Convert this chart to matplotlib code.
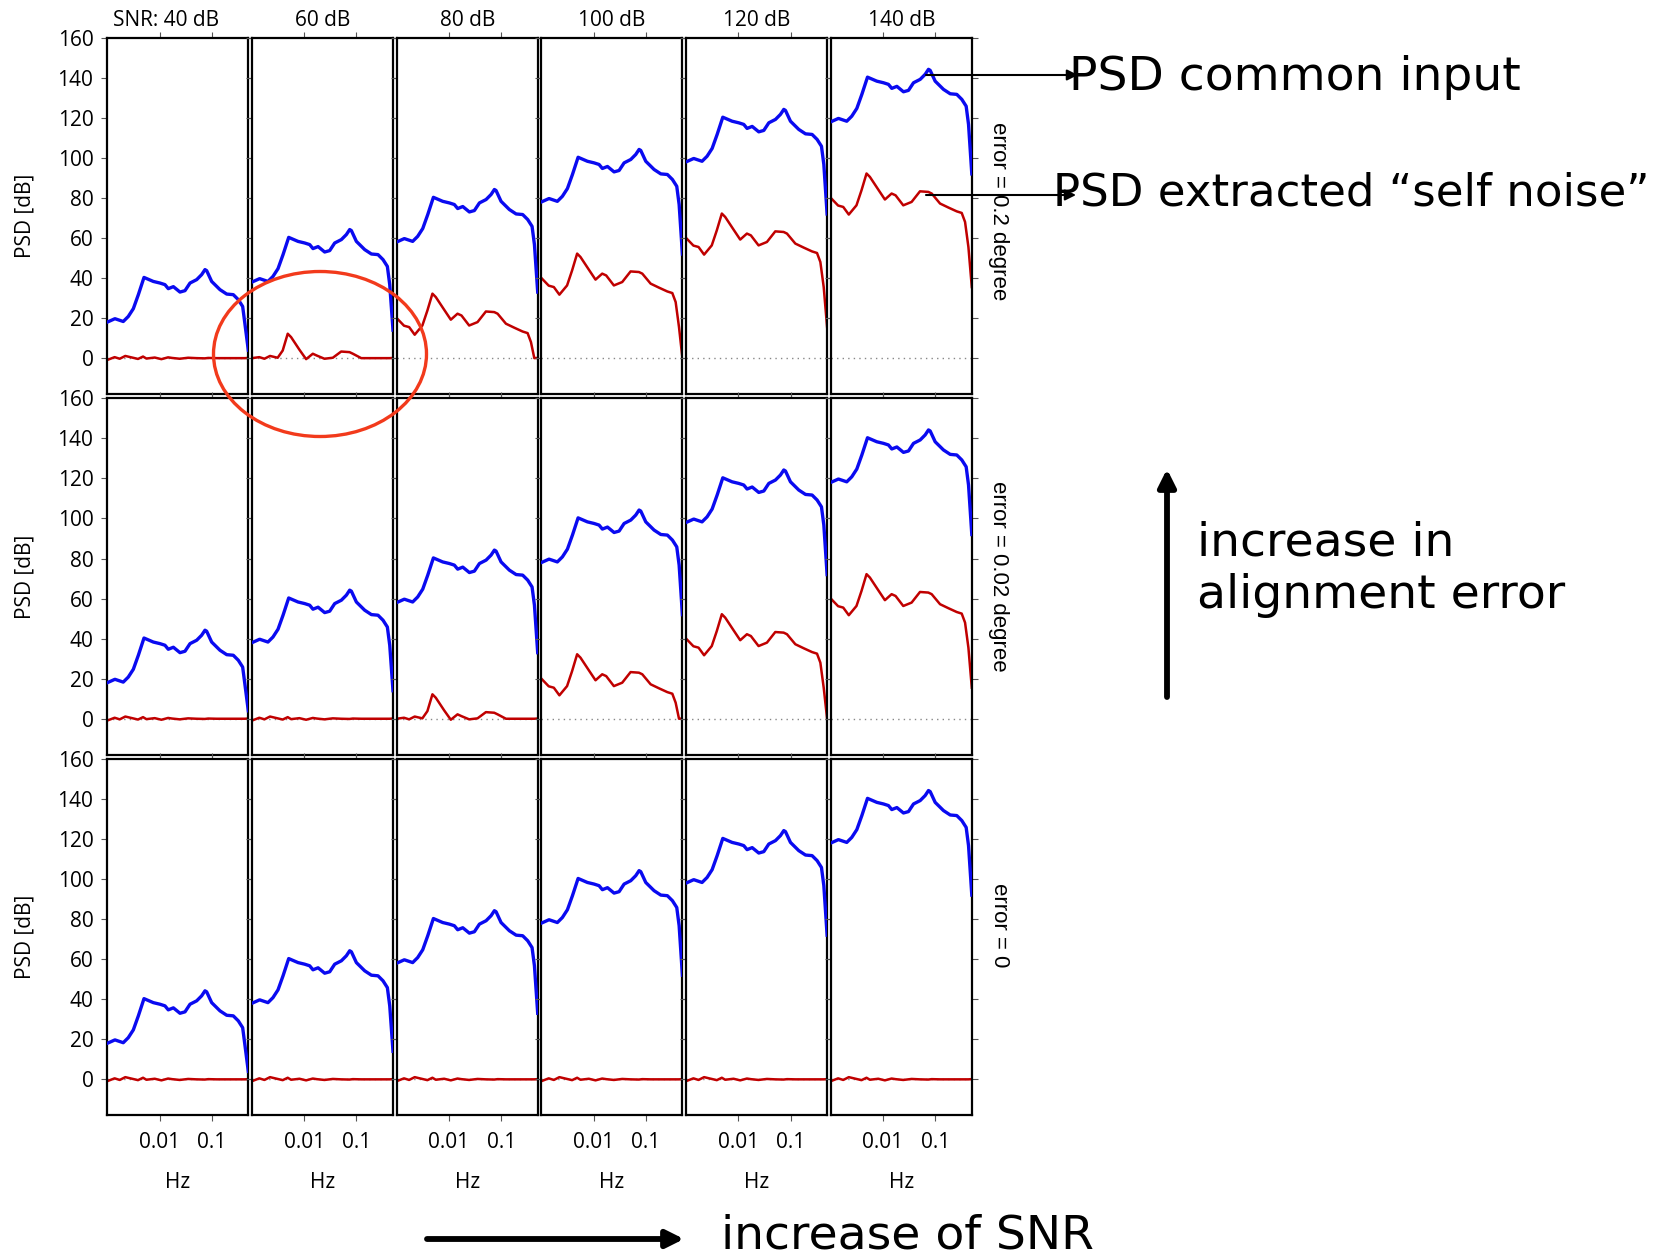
import numpy as np
import matplotlib
matplotlib.use("Agg")
import matplotlib.pyplot as plt
from matplotlib.patches import Ellipse, FancyArrowPatch

# ---------------- data ----------------
snr_titles = ["SNR: 40 dB", "60 dB", "80 dB", "100 dB", "120 dB", "140 dB"]
snr_db = [40, 60, 80, 100, 120, 140]
row_labels = ["error = 0.2 degree", "error = 0.02 degree", "error = 0"]
# self-noise level relative to the 0.2 degree curve (None = no self noise)
row_noise_offset = [0, -20, None]

# PSD common input, read at SNR 40 dB
blue_freq = [0.00100, 0.00140, 0.00202, 0.00252, 0.00315, 0.00393, 0.00504,
             0.00760, 0.0102, 0.0127, 0.0147, 0.0184, 0.0246, 0.0307, 0.0383,
             0.0514, 0.0640, 0.0741, 0.0798, 0.0995, 0.1435, 0.193, 0.258,
             0.322, 0.390, 0.433, 0.500]
blue_40db = [18.0, 19.7, 18.3, 20.8, 24.7, 31.7, 40.3, 38.3, 37.5, 36.7, 34.7,
             35.7, 33.0, 33.7, 37.5, 39.2, 41.7, 44.2, 43.7, 38.3, 34.2, 32.0,
             31.7, 29.2, 25.8, 16.7, 4.2]
# value at 0.5 Hz for each SNR column
blue_end = [4, 14, 33, 52, 72, 92]

# PSD extracted self noise, read at SNR 140 dB, error 0.2 degree
red_freq = [0.00100, 0.00138, 0.00173, 0.00221, 0.00310, 0.00387, 0.00483,
            0.00560, 0.00809, 0.01086, 0.01459, 0.01738, 0.02438, 0.03524,
            0.05093, 0.07362, 0.08531, 0.1233, 0.1782, 0.2570, 0.3206, 0.3715,
            0.4305, 0.5000]
red_140db = [80.0, 76.2, 75.5, 71.7, 76.3, 83.8, 92.2, 90.5, 84.2, 79.2, 82.2,
             81.3, 76.3, 78.0, 83.3, 83.0, 82.2, 77.2, 75.2, 73.3, 72.5, 68.0,
             55.5, 35.5]
# noise floor of the extracted self noise (near 0 dB)
red_floor = [-0.9, 0.5, -0.3, 1.1, 0.2, -0.4, 0.8, -0.2, 0.3, -0.5, 0.4, 0.1,
             -0.3, 0.2, 0.0, -0.1, 0.1, 0.0, 0.0, 0.0, 0.0, 0.0, 0.0, 0.1]

yticks = [0, 20, 40, 60, 80, 100, 120, 140, 160]
xticks = [0.01, 0.1]
xticklabels = ["0.01", "0.1"]

# ---------------- figure ----------------
W, H = 1672, 1256
fig = plt.figure(figsize=(W / 100, H / 100), dpi=100)
fig.patch.set_facecolor("white")

TICKFONT = "Open Sans"
ann_font = "DejaVu Sans"

left0, pitch_x, pw = 107.3, 144.7, 141.0
top0, pitch_y, ph = 37.7, 360.6, 356.5

blue_c = "#0a0af0"
red_c = "#c00000"

for r in range(3):
    for c in range(6):
        lx = left0 + c * pitch_x
        ty = top0 + r * pitch_y
        ax = fig.add_axes([lx / W, 1 - (ty + ph) / H, pw / W, ph / H])
        ax.set_xscale("log")
        ax.set_xlim(0.001, 0.5)
        ax.set_ylim(-18, 160)
        ax.axhline(0, color="#888888", ls=(0, (1, 3)), lw=1.0, zorder=1)

        blue = np.array(blue_40db) + (snr_db[c] - 40)
        blue[-1] = blue_end[c]
        ax.plot(blue_freq, blue, color=blue_c, lw=2.4, zorder=3)

        off = row_noise_offset[r]
        if off is None:
            red = np.array(red_floor)
        else:
            red = np.maximum(np.array(red_140db) + (snr_db[c] - 140) + off,
                             np.array(red_floor))
        ax.plot(red_freq, red, color=red_c, lw=1.8, zorder=2)

        ax.set_xticks(xticks)
        ax.minorticks_off()
        ax.set_yticks(yticks)
        ax.tick_params(which="both", direction="out", length=4, width=0.8,
                       color="#555555", top=True, right=True,
                       labelsize=15, pad=6)
        ax.tick_params(axis="x", pad=8)
        if r == 2:
            ax.set_xticklabels(xticklabels, fontfamily=TICKFONT)
        else:
            ax.set_xticklabels([])
        if c == 0:
            ax.set_yticklabels([str(v) for v in yticks], fontfamily=TICKFONT)
        else:
            ax.set_yticklabels([])
        for s in ax.spines.values():
            s.set_linewidth(1.6)
            s.set_color("black")

        if r == 0:
            cx = lx + pw / 2 - (12 if c == 0 else 0)
            fig.text(cx / W, 1 - 20 / H, snr_titles[c],
                     ha="center", va="center", fontsize=15, family=TICKFONT)
        if r == 2:
            fig.text((lx + pw / 2) / W, 1 - 1182 / H, "Hz",
                     ha="center", va="center", fontsize=15, family=TICKFONT)
    # row labels
    fig.text(25 / W, 1 - (top0 + r * pitch_y + ph / 2) / H, "PSD [dB]",
             rotation=90, ha="center", va="center", fontsize=15,
             family=TICKFONT)
    fig.text(999 / W, 1 - ([211, 576, 925][r]) / H, row_labels[r],
             rotation=-90, ha="center", va="center", fontsize=16,
             family="Liberation Sans")

# red circle highlight
fig.add_artist(Ellipse((320 / W, 1 - 354 / H), 213 / W, 165 / H,
                       transform=fig.transFigure, fill=False,
                       edgecolor="#f23a1c", lw=2.4, zorder=10))

def fig_arrow(p0, p1, lw, ms):
    a = FancyArrowPatch((p0[0] / W, 1 - p0[1] / H), (p1[0] / W, 1 - p1[1] / H),
                        transform=fig.transFigure, arrowstyle="-|>",
                        mutation_scale=ms, lw=lw, color="black",
                        shrinkA=0, shrinkB=0, zorder=11)
    fig.add_artist(a)

fig_arrow((926, 75), (1078, 75), 1.5, 16)
fig_arrow((926, 195), (1076, 195), 1.5, 16)
fig_arrow((1167, 697), (1167, 469), 4.2, 26)
fig_arrow((427, 1239), (684, 1239), 4.2, 26)

fig.text(1069 / W, 1 - 78 / H, "PSD common input", ha="left", va="center",
         fontsize=34, family=ann_font)
fig.text(1053 / W, 1 - 193 / H, "PSD extracted \u201cself noise\u201d",
         ha="left", va="center", fontsize=32.5, family=ann_font)
fig.text(1197 / W, 1 - 569 / H, "increase in\nalignment error", ha="left",
         va="center", fontsize=34, family=ann_font, linespacing=1.2)
fig.text(721 / W, 1 - 1236 / H, "increase of SNR", ha="left", va="center",
         fontsize=34, family=ann_font)

fig.savefig("out.png", dpi=100, facecolor="white")
